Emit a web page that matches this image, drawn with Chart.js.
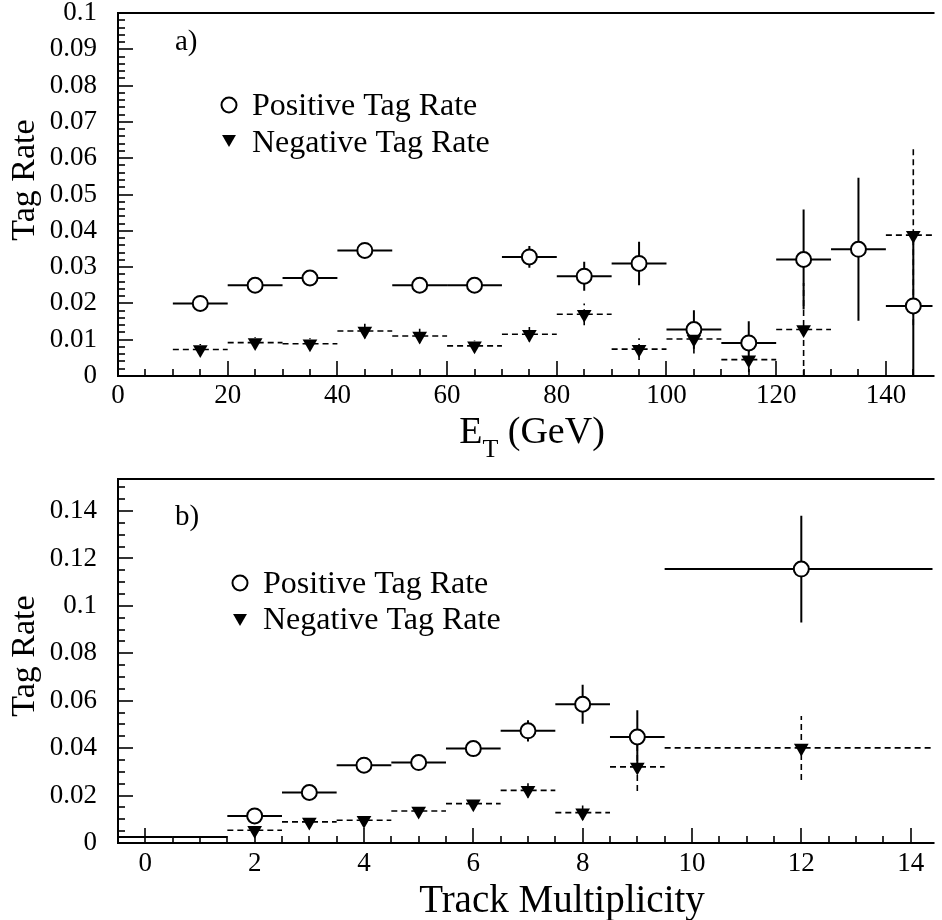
<!DOCTYPE html>
<html><head><meta charset="utf-8">
<script src="https://cdn.jsdelivr.net/npm/chart.js@4.4.1/dist/chart.umd.min.js"></script>
<style>
html,body{margin:0;padding:0;background:#fff;}
#wrap{position:relative;width:942px;height:920px;background:#fff;}
canvas{position:absolute;left:0;}
</style></head><body>
<div id="wrap">
<canvas id="c1" width="942" height="460" style="top:0px"></canvas>
<canvas id="c2" width="942" height="460" style="top:460px"></canvas>
</div>
<script>
// ---------- Panel a) : E_T ----------
const etCenters = [15, 25, 35, 45, 55, 65, 75, 85, 95, 105, 115, 125, 135, 145];
const etBinLow  = [10, 20, 30, 40, 50, 60, 70, 80, 90, 100, 110, 120, 130, 140];
const etBinHigh = [20, 30, 40, 50, 60, 70, 80, 90, 100, 110, 120, 130, 140, 150];
const etPos     = [0.0200, 0.0250, 0.0270, 0.0346, 0.0250, 0.0250, 0.0328, 0.0275, 0.0310, 0.0128, 0.0091, 0.0321, 0.0349, 0.0193];
const etPosErr  = [0.0012, 0.0012, 0.0013, 0.0015, 0.0012, 0.0013, 0.0030, 0.0040, 0.0060, 0.0053, 0.0060, 0.0138, 0.0197, 0.0200];
const etNeg     = [0.0073, 0.0092, 0.0089, 0.0124, 0.0110, 0.0083, 0.0115, 0.0170, 0.0074, 0.0102, 0.0045, 0.0128, null, 0.0388];
const etNegErr  = [0.0015, 0.0015, 0.0015, 0.0020, 0.0020, 0.0015, 0.0020, 0.0030, 0.0030, 0.0040, 0.0035, 0.0128, null, 0.0248];

// ---------- Panel b) : Track multiplicity ----------
const multCenters = [0, 1, 2, 3, 4, 5, 6, 7, 8, 9, 12];
const multBinLow  = [-0.5, 0.5, 1.5, 2.5, 3.5, 4.5, 5.5, 6.5, 7.5, 8.5, 9.5];
const multBinHigh = [0.5, 1.5, 2.5, 3.5, 4.5, 5.5, 6.5, 7.5, 8.5, 9.5, 14.5];
const multPos     = [0.0025, 0.0025, 0.0114, 0.0213, 0.0328, 0.0339, 0.0398, 0.0473, 0.0585, 0.0447, 0.1155];
const multPosErr  = [0, 0, 0.0020, 0.0020, 0.0020, 0.0020, 0.0020, 0.0045, 0.0082, 0.0113, 0.0225];
const multNeg     = [null, null, 0.0054, 0.0089, 0.0096, 0.0135, 0.0166, 0.0222, 0.0128, 0.0321, 0.0401];
const multNegErr  = [null, null, 0.0020, 0.0015, 0.0020, 0.0020, 0.0020, 0.0030, 0.0030, 0.0102, 0.0135];

const seriesLabels = ['Positive Tag Rate', 'Negative Tag Rate'];
const yTitle = 'Tag Rate';

const FONT = '"Liberation Serif", "Times New Roman", Times, serif';

function drawMarker(ctx, kind, x, y) {
  ctx.save();
  if (kind === 'circle') {
    ctx.beginPath(); ctx.arc(x, y, 7.5, 0, Math.PI * 2);
    ctx.fillStyle = '#fff'; ctx.fill();
    ctx.lineWidth = 2; ctx.strokeStyle = '#000'; ctx.stroke();
  } else {
    const r = 8, s = Math.sin(Math.PI / 3);
    ctx.beginPath();
    ctx.moveTo(x - r * s, y - r / 2); ctx.lineTo(x + r * s, y - r / 2); ctx.lineTo(x, y + r);
    ctx.closePath(); ctx.fillStyle = '#000'; ctx.fill();
  }
  ctx.restore();
}

function makePanel(p) {
  const toPts = (vals) => p.centers.map((c, i) => ({x: c, y: vals[i]}));
  const datasets = [
    { label: seriesLabels[1], data: toPts(p.neg), xLow: p.low, xHigh: p.high, err: p.negErr, dashed: true,
      showLine: false, pointStyle: 'triangle', rotation: 180, pointRadius: 8.5,
      backgroundColor: '#000', borderColor: '#000', borderWidth: 0 },
    { label: seriesLabels[0], data: toPts(p.pos), xLow: p.low, xHigh: p.high, err: p.posErr, dashed: false,
      showLine: false, pointStyle: 'circle',
      pointRadius: (c) => (c.raw && c.raw.y > 0.003 ? 7.5 : 0),
      backgroundColor: '#fff', borderColor: '#000', borderWidth: 2 }
  ];

  const errPlugin = {
    id: 'errbars',
    beforeDatasetsDraw(chart) {
      const ctx = chart.ctx, xs = chart.scales.x, ys = chart.scales.y, a = chart.chartArea;
      ctx.save();
      ctx.beginPath(); ctx.rect(a.left, a.top, a.right - a.left, a.bottom - a.top); ctx.clip();
      ctx.strokeStyle = '#000';
      chart.data.datasets.forEach(ds => {
        ctx.lineWidth = ds.dashed ? 1.6 : 2;
        ctx.setLineDash(ds.dashed ? [6, 4] : []);
        ds.data.forEach((pt, i) => {
          if (pt.y == null) return;
          const py = ys.getPixelForValue(pt.y);
          const px = xs.getPixelForValue(pt.x);
          ctx.beginPath();
          ctx.moveTo(xs.getPixelForValue(ds.xLow[i]), py);
          ctx.lineTo(xs.getPixelForValue(ds.xHigh[i]), py);
          ctx.stroke();
          const e = ds.err[i];
          if (e) {
            ctx.beginPath();
            ctx.moveTo(px, ys.getPixelForValue(Math.max(0, pt.y - e)));
            ctx.lineTo(px, ys.getPixelForValue(pt.y + e));
            ctx.stroke();
          }
        });
      });
      ctx.restore();
    }
  };

  const framePlugin = {
    id: 'frame',
    afterDraw(chart) {
      const ctx = chart.ctx, xs = chart.scales.x, ys = chart.scales.y, a = chart.chartArea;
      ctx.save();
      ctx.strokeStyle = '#000'; ctx.lineWidth = 2; ctx.setLineDash([]);
      // frame
      ctx.beginPath();
      ctx.moveTo(a.right + 2, a.top); ctx.lineTo(a.left, a.top);
      ctx.lineTo(a.left, a.bottom); ctx.lineTo(a.right + 2, a.bottom);
      ctx.stroke();
      // y ticks (inward)
      ctx.lineWidth = 1.6;
      const nY = Math.round((p.yMax - p.yMin) / p.yMinor);
      for (let k = 0; k <= nY; k++) {
        const v = p.yMin + k * p.yMinor;
        if (v > p.yMax + 1e-9) break;
        const isMajor = Math.abs(v / p.yMajor - Math.round(v / p.yMajor)) < 1e-6;
        const py = Math.round(ys.getPixelForValue(v));
        ctx.beginPath(); ctx.moveTo(a.left, py); ctx.lineTo(a.left + (isMajor ? 15 : 7), py); ctx.stroke();
      }
      // x ticks (inward)
      const start = Math.ceil(p.xMin / p.xMinor) * p.xMinor;
      for (let v = start; v <= p.xMax + 1e-9; v += p.xMinor) {
        const isMajor = Math.abs(v / p.xMajor - Math.round(v / p.xMajor)) < 1e-6;
        const px = Math.round(xs.getPixelForValue(v));
        if (px <= a.left + 1) continue;
        ctx.beginPath(); ctx.moveTo(px, a.bottom); ctx.lineTo(px, a.bottom - (isMajor ? 15 : 7)); ctx.stroke();
      }
      ctx.fillStyle = '#000';
      // panel label
      ctx.font = '29px ' + FONT; ctx.textAlign = 'left'; ctx.textBaseline = 'alphabetic';
      ctx.fillText(p.tag, p.tagX, p.tagY);
      // legend
      ctx.font = '32px ' + FONT;
      drawMarker(ctx, 'circle', p.legX, p.legY1);
      ctx.fillText(seriesLabels[0], p.legTextX, p.legBase1);
      drawMarker(ctx, 'tri', p.legX, p.legY2);
      ctx.fillText(seriesLabels[1], p.legTextX, p.legBase2);
      // y title
      ctx.save();
      ctx.translate(34, p.yTitleY); ctx.rotate(-Math.PI / 2);
      ctx.font = '34px ' + FONT; ctx.textAlign = 'center'; ctx.textBaseline = 'alphabetic';
      ctx.fillText(yTitle, 0, 0);
      ctx.restore();
      // x title
      p.drawXTitle(ctx);
      ctx.restore();
    }
  };

  return new Chart(document.getElementById(p.canvas), {
    type: 'scatter',
    data: { datasets },
    options: {
      responsive: false, animation: false, events: [],
      layout: { padding: { top: p.padTop, left: 0, right: 0, bottom: 0 } },
      plugins: { legend: { display: false }, tooltip: { enabled: false }, title: { display: false } },
      scales: {
        x: {
          type: 'linear', min: p.xMin, max: p.xMax,
          grid: { display: false, drawTicks: false }, border: { display: false },
          ticks: { stepSize: p.xStep, includeBounds: false, autoSkip: false, maxRotation: 0, minRotation: 0,
                   color: '#000', font: { family: FONT, size: 27 }, padding: p.xTickPad,
                   callback: (v) => String(+v.toFixed(3)) },
          afterFit: (s) => { s.height = p.xH; s.paddingLeft = 0; s.paddingRight = 0; }
        },
        y: {
          type: 'linear', min: p.yMin, max: p.yMax,
          grid: { display: false, drawTicks: false }, border: { display: false },
          ticks: { stepSize: p.yStep, includeBounds: false, autoSkip: false,
                   color: '#000', font: { family: FONT, size: 27 }, padding: 21,
                   callback: (v) => String(+v.toFixed(4)) },
          afterFit: (s) => { s.width = 118; s.paddingTop = 0; s.paddingBottom = 0; }
        }
      }
    },
    plugins: [errPlugin, framePlugin]
  });
}

makePanel({
  canvas: 'c1', padTop: 13, xH: 84, xTickPad: 4,
  centers: etCenters, low: etBinLow, high: etBinHigh, pos: etPos, posErr: etPosErr, neg: etNeg, negErr: etNegErr,
  xMin: 0, xMax: 148.5, xStep: 20, xMinor: 5, xMajor: 20,
  yMin: 0, yMax: 0.1, yStep: 0.01, yMinor: 0.002, yMajor: 0.01,
  tag: 'a)', tagX: 175, tagY: 50,
  legX: 229, legY1: 105, legY2: 139, legTextX: 252, legBase1: 115, legBase2: 152,
  yTitleY: 180,
  drawXTitle(ctx) {
    const big = '38px ' + FONT, small = '26px ' + FONT;
    ctx.font = big; const wE = ctx.measureText('E').width; const wRest = ctx.measureText(' (GeV)').width;
    ctx.font = small; const wT = ctx.measureText('T').width;
    const total = wE + wT + wRest; let x = 532 - total / 2; const base = 443;
    ctx.textAlign = 'left'; ctx.textBaseline = 'alphabetic';
    ctx.font = big; ctx.fillText('E', x, base); x += wE;
    ctx.font = small; ctx.fillText('T', x, base + 14); x += wT;
    ctx.font = big; ctx.fillText(' (GeV)', x, base);
  }
});

makePanel({
  canvas: 'c2', padTop: 19, xH: 77, xTickPad: 5,
  centers: multCenters, low: multBinLow, high: multBinHigh, pos: multPos, posErr: multPosErr, neg: multNeg, negErr: multNegErr,
  xMin: -0.5, xMax: 14.4, xStep: 2, xMinor: 0.5, xMajor: 2,
  yMin: 0, yMax: 0.1535, yStep: 0.02, yMinor: 0.005, yMajor: 0.02,
  tag: 'b)', tagX: 175, tagY: 65,
  legX: 240, legY1: 123, legY2: 158, legTextX: 263, legBase1: 133, legBase2: 169,
  yTitleY: 196,
  drawXTitle(ctx) {
    ctx.font = '39px ' + FONT; ctx.textAlign = 'center'; ctx.textBaseline = 'alphabetic';
    ctx.fillText('Track Multiplicity', 562, 452);
  }
});
</script>
</body></html>
